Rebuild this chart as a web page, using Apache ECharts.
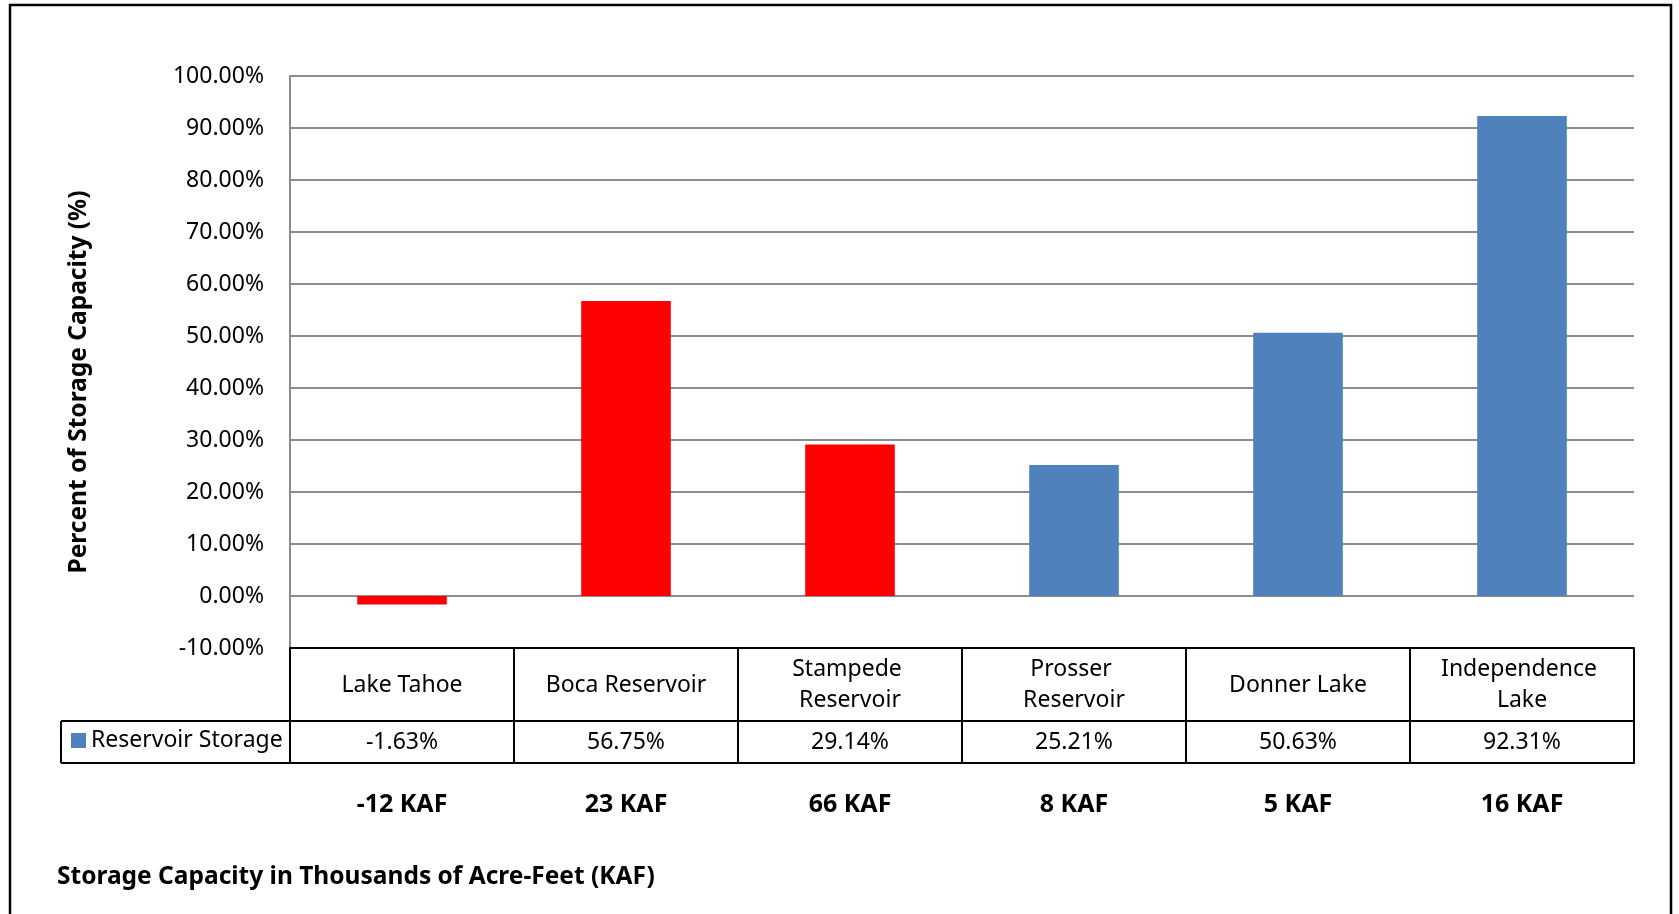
<!DOCTYPE html>
<html><head><meta charset="utf-8">
<script src="https://cdn.jsdelivr.net/npm/echarts@6/dist/echarts.min.js"></script>
<style>html,body{margin:0;padding:0;background:#fff}#c{width:1679px;height:914px}</style>
</head><body><div id="c"></div>
<script>
// ---- data ----
const categories = ['Lake Tahoe', 'Boca Reservoir', 'Stampede Reservoir', 'Prosser Reservoir', 'Donner Lake', 'Independence Lake'];
const storagePct = [-1.63, 56.75, 29.14, 25.21, 50.63, 92.31];
const capacityLabels = ['-12 KAF', '23 KAF', '66 KAF', '8 KAF', '5 KAF', '16 KAF'];
const seriesName = 'Reservoir Storage';
const yMin = -10, yMax = 100, yStep = 10;
const yTitle = 'Percent of Storage Capacity (%)';
const footTitle = 'Storage Capacity in Thousands of Acre-Feet (KAF)';

// ---- layout / style ----
const FONT = '"Noto Sans", sans-serif';
const RED = '#FF0000', BLUE = '#4F81BD';
const gridLeft = 290, gridRight = 45, gridTop = 76, gridBottom = 914 - 648;
const axisY = 648, row1 = 73, row2 = 115; // table row offsets below axis

const chart = echarts.init(document.getElementById('c'), null, {renderer: 'canvas'});
const option = {
  animation: false,
  backgroundColor: '#fff',
  textStyle: {fontFamily: FONT, color: '#000'},
  grid: {left: gridLeft, right: gridRight, top: gridTop, bottom: gridBottom, containLabel: false},
  legend: {
    data: [seriesName], left: 71, top: 729, padding: 0,
    icon: 'rect', itemWidth: 15, itemHeight: 15, selectedMode: false,
    textStyle: {fontFamily: FONT, fontSize: 23, color: '#000'}
  },
  xAxis: [
    {
      type: 'category', data: categories, position: 'bottom',
      axisLine: {show: true, onZero: false, lineStyle: {color: '#000', width: 2}},
      axisTick: {show: true, interval: 0, length: row2, alignWithLabel: false, lineStyle: {color: '#000', width: 2}},
      axisLabel: {interval: 0, margin: 37, verticalAlign: 'middle', fontFamily: FONT, fontSize: 23,
        color: '#000', lineHeight: 31, width: 180, overflow: 'break', align: 'center'}
    },
    {
      type: 'category', data: storagePct.map(v => v.toFixed(2) + '%'), position: 'bottom', offset: row1,
      axisLine: {show: true, onZero: false, lineStyle: {color: '#000', width: 2}},
      axisTick: {show: false},
      axisLabel: {interval: 0, margin: 21, verticalAlign: 'middle', fontFamily: FONT, fontSize: 23, color: '#000'}
    },
    {
      type: 'category', data: capacityLabels, position: 'bottom', offset: row2,
      axisLine: {show: true, onZero: false, lineStyle: {color: '#000', width: 2}},
      axisTick: {show: false},
      axisLabel: {interval: 0, margin: 42, verticalAlign: 'middle', fontFamily: FONT, fontSize: 25,
        fontWeight: 'bold', color: '#000'}
    }
  ],
  yAxis: {
    type: 'value', min: yMin, max: yMax, interval: yStep,
    name: yTitle, nameLocation: 'middle', nameGap: 198, nameRotate: 90,
    nameTextStyle: {fontFamily: FONT, fontSize: 24.5, fontWeight: 'bold', color: '#000', padding: [0, 40, 0, 0]},
    axisLine: {show: true, lineStyle: {color: '#8c8c8c', width: 2}},
    axisTick: {show: false},
    axisLabel: {margin: 26, fontFamily: FONT, fontSize: 23, color: '#000',
      formatter: v => v.toFixed(2) + '%'},
    splitLine: {show: true, lineStyle: {color: '#8c8c8c', width: 2}}
  },
  series: [{
    name: seriesName, type: 'bar', xAxisIndex: 0, barWidth: '40%',
    itemStyle: {color: BLUE},
    data: storagePct.map((v, i) => ({value: v, itemStyle: {color: i < 3 ? RED : BLUE}}))
  }],
  graphic: [
    {type: 'rect', z: 100, silent: true, shape: {x: 10, y: 5, width: 1661, height: 1000},
      style: {fill: 'none', stroke: '#000', lineWidth: 2.5}},
    {type: 'line', z: 100, shape: {x1: 61, y1: axisY + row1, x2: gridLeft, y2: axisY + row1}, style: {stroke: '#000', lineWidth: 2}},
    {type: 'line', z: 100, shape: {x1: 61, y1: axisY + row2, x2: gridLeft, y2: axisY + row2}, style: {stroke: '#000', lineWidth: 2}},
    {type: 'line', z: 100, shape: {x1: 61, y1: axisY + row1, x2: 61, y2: axisY + row2}, style: {stroke: '#000', lineWidth: 2}},
    {type: 'text', z: 100, style: {x: 57, y: 877, text: footTitle, verticalAlign: 'middle', fontFamily: FONT, fontSize: 24.5, fontWeight: 'bold', fill: '#000'}}
  ]
};
chart.setOption(option);
</script>
</body></html>
